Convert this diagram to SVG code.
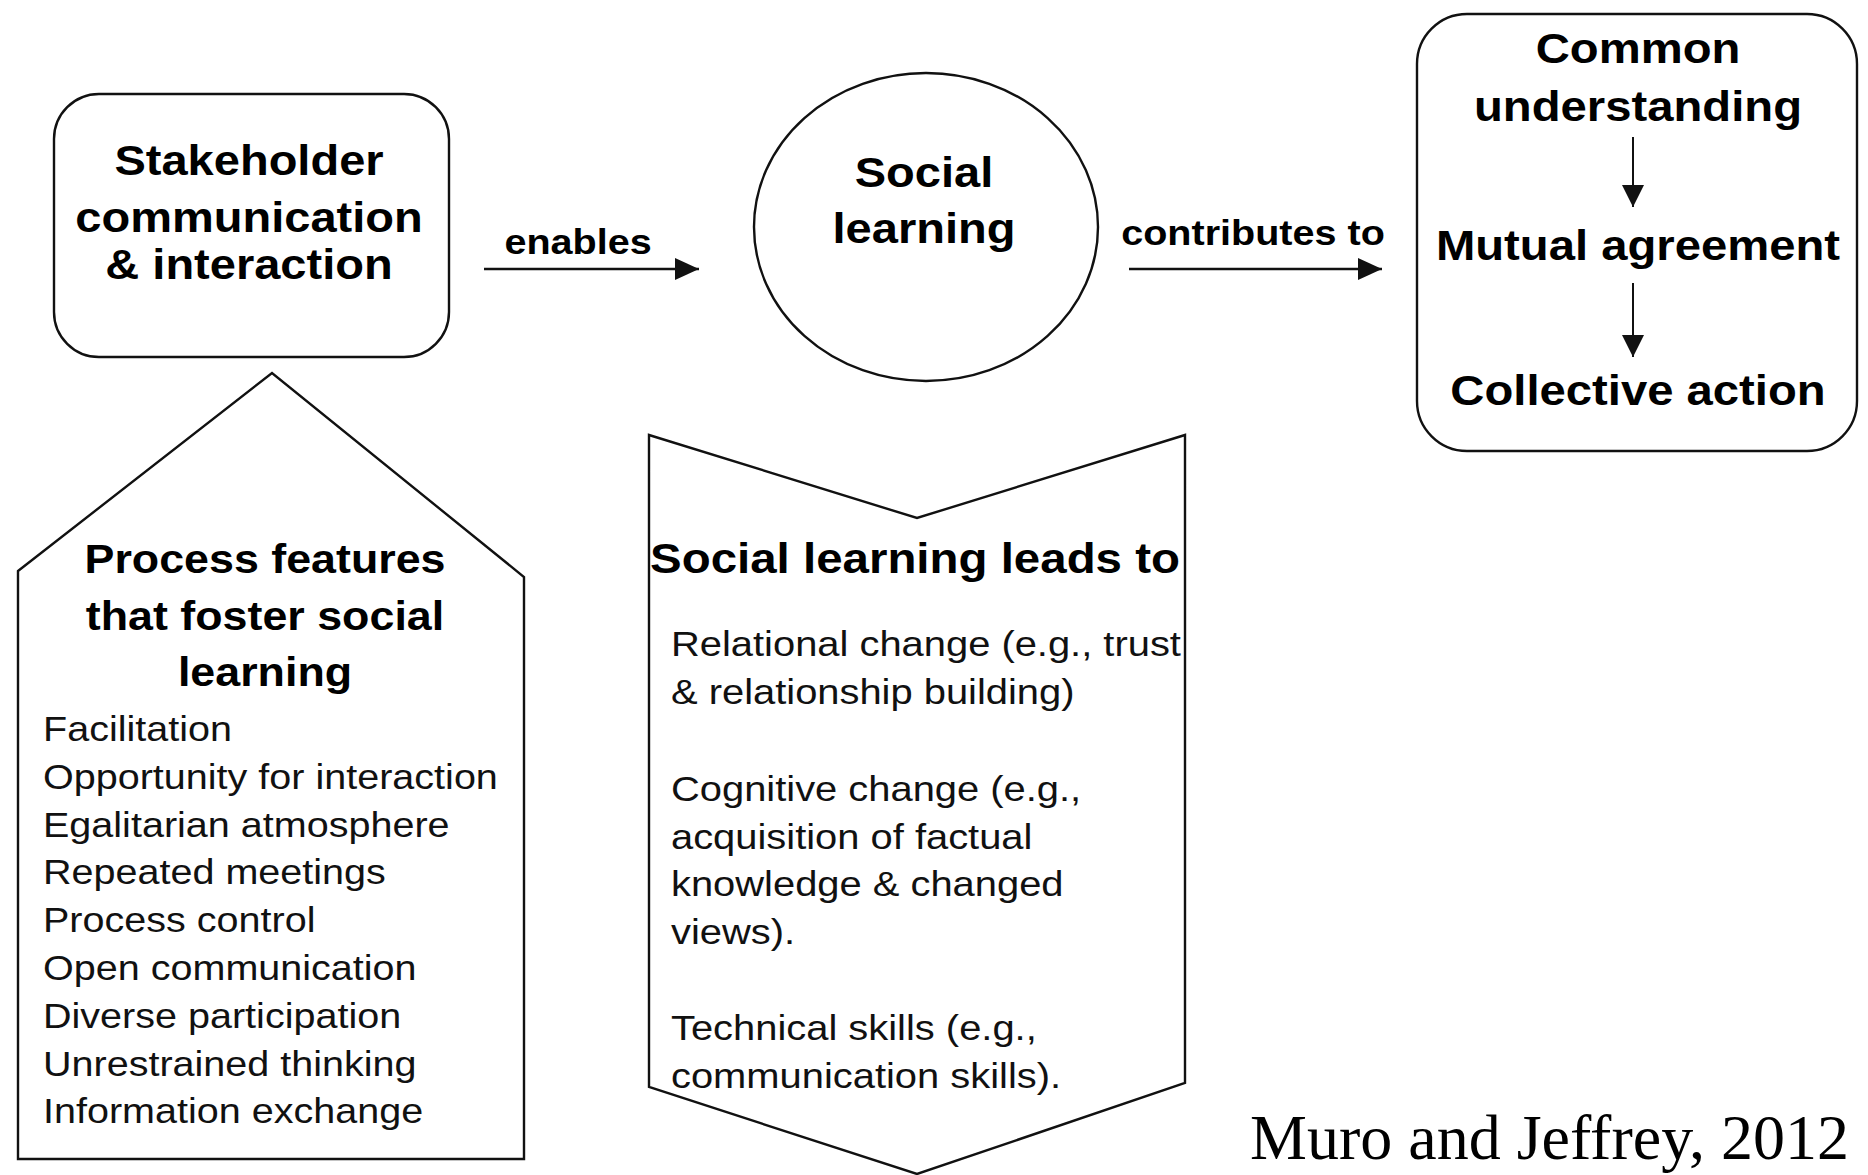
<svg xmlns="http://www.w3.org/2000/svg" width="1868" height="1175" viewBox="0 0 1868 1175">
<style>
.shape{fill:#fff;stroke:#111;stroke-width:2.4}
.b{font-family:"Liberation Sans",Arial,sans-serif;font-weight:bold;fill:#000}
.r{font-family:"Liberation Sans",Arial,sans-serif;fill:#111}
.t42{font-size:42px}
.t40{font-size:40px}
.t35{font-size:35px}
.c{text-anchor:middle}
.conn{stroke:#111;stroke-width:2.6;fill:none}
.conn2{stroke:#111;stroke-width:2;fill:none}
.cite{font-family:"Liberation Serif","Times New Roman",serif;font-size:64px;fill:#000}
</style>
<defs>
<marker id="ah" markerUnits="userSpaceOnUse" markerWidth="24" markerHeight="22" refX="24" refY="11" orient="auto">
<path d="M0,0 L24,11 L0,22 z" fill="#111"/>
</marker>
<marker id="ahs" markerUnits="userSpaceOnUse" markerWidth="22" markerHeight="22" refX="22" refY="11" orient="auto">
<path d="M0,0 L22,11 L0,22 z" fill="#111"/>
</marker>
</defs>
<rect width="1868" height="1175" fill="#fff"/>

<g id="stakeholder">
<rect class="shape" x="54" y="94" width="395" height="263" rx="45" ry="45"/>
<g transform="translate(249,0) scale(1.12,1)">
<text class="b t42 c" x="0" y="175">Stakeholder</text>
<text class="b t42 c" x="0" y="232">communication</text>
<text class="b t42 c" x="0" y="279">&amp; interaction</text>
</g>
</g>

<g id="social-learning">
<ellipse class="shape" cx="926" cy="227" rx="172" ry="154"/>
<g transform="translate(924,0) scale(1.12,1)">
<text class="b t42 c" x="0" y="187">Social</text>
<text class="b t42 c" x="0" y="243">learning</text>
</g>
</g>

<g id="outcomes">
<rect class="shape" x="1417" y="14" width="440" height="437" rx="50" ry="50"/>
<g transform="translate(1638,0) scale(1.125,1)">
<text class="b t42 c" x="0" y="63">Common</text>
<text class="b t42 c" x="0" y="121">understanding</text>
<text class="b t42 c" x="0" y="260">Mutual agreement</text>
<text class="b t42 c" x="0" y="405">Collective action</text>
</g>
</g>

<g id="process-features">
<polygon class="shape" points="18,571 272,373 524,577 524,1159 18,1159"/>
<g transform="translate(265,0) scale(1.12,1)">
<text class="b t40 c" x="0" y="573">Process features</text>
<text class="b t40 c" x="0" y="630">that foster social</text>
<text class="b t40 c" x="0" y="686">learning</text>
</g>
<g transform="translate(43,0) scale(1.13,1)">
<text class="r t35" x="0" y="741">Facilitation</text>
<text class="r t35" x="0" y="789">Opportunity for interaction</text>
<text class="r t35" x="0" y="837">Egalitarian atmosphere</text>
<text class="r t35" x="0" y="884">Repeated meetings</text>
<text class="r t35" x="0" y="932">Process control</text>
<text class="r t35" x="0" y="980">Open communication</text>
<text class="r t35" x="0" y="1028">Diverse participation</text>
<text class="r t35" x="0" y="1076">Unrestrained thinking</text>
<text class="r t35" x="0" y="1123">Information exchange</text>
</g>
</g>

<g id="leads-to">
<polygon class="shape" points="649,435 917,518 1185,435 1185,1083 917,1174 649,1087"/>
<g transform="translate(915,0) scale(1.13,1)">
<text class="b t42 c" x="0" y="573">Social learning leads to</text>
</g>
<g transform="translate(671,0) scale(1.14,1)">
<text class="r t35" x="0" y="656">Relational change (e.g., trust</text>
<text class="r t35" x="0" y="704">&amp; relationship building)</text>
<text class="r t35" x="0" y="801">Cognitive change (e.g.,</text>
<text class="r t35" x="0" y="849">acquisition of factual</text>
<text class="r t35" x="0" y="896">knowledge &amp; changed</text>
<text class="r t35" x="0" y="944">views).</text>
<text class="r t35" x="0" y="1040">Technical skills (e.g.,</text>
<text class="r t35" x="0" y="1088">communication skills).</text>
</g>
</g>

<g id="connectors">
<line class="conn" x1="484" y1="269" x2="699" y2="269" marker-end="url(#ah)"/>
<line class="conn" x1="1129" y1="269" x2="1382" y2="269" marker-end="url(#ah)"/>
<line class="conn2" x1="1633" y1="137" x2="1633" y2="207" marker-end="url(#ahs)"/>
<line class="conn2" x1="1633" y1="283" x2="1633" y2="357" marker-end="url(#ahs)"/>
<g transform="translate(578,0) scale(1.13,1)">
<text class="b t35 c" x="0" y="254">enables</text>
</g>
<g transform="translate(1253,0) scale(1.13,1)">
<text class="b t35 c" x="0" y="245">contributes to</text>
</g>
</g>

<text class="cite" x="1250" y="1159">Muro and Jeffrey, 2012</text>
</svg>
